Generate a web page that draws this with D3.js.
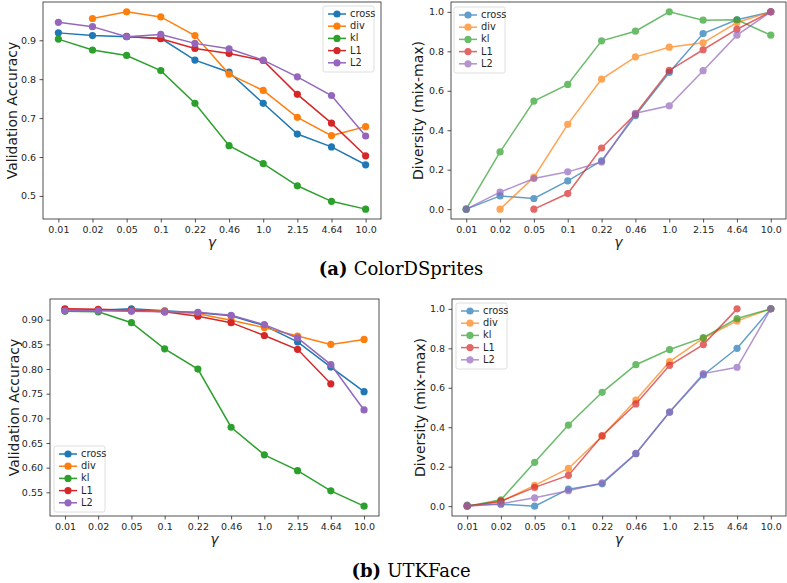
<!DOCTYPE html>
<html>
<head>
<meta charset="utf-8">
<script src="https://cdn.jsdelivr.net/npm/d3@7"></script>
<style>
  body { margin: 0; background: #fff; }
  svg { display: block; }
  .tick text { font-family: "DejaVu Sans", sans-serif; font-size: 9.5px; fill: #262626; }
  .caption { font-family: "DejaVu Serif", serif; font-size: 18px; fill: #000; }
</style>
</head>
<body>
<svg id="chart" width="787" height="583"></svg>
<script>
// gamma values shared by all panels
const gammas = ['0.01', '0.02', '0.05', '0.1', '0.22', '0.46', '1.0', '2.15', '4.64', '10.0'];
const seriesNames = ['cross', 'div', 'kl', 'L1', 'L2'];
const colors = ['#1f77b4', '#ff7f0e', '#2ca02c', '#d62728', '#9467bd'];

// (a) ColorDSprites - validation accuracy
const accColorCross = [0.919, 0.912, 0.909, 0.905, 0.849, 0.818, 0.738, 0.659, 0.626, 0.580];
const accColorDiv = [null, 0.956, 0.973, 0.960, 0.912, 0.813, 0.771, 0.702, 0.655, 0.678];
const accColorKl = [0.903, 0.875, 0.861, 0.822, 0.738, 0.629, 0.583, 0.526, 0.486, 0.466];
const accColorL1 = [null, null, 0.910, 0.904, 0.879, 0.866, 0.848, 0.761, 0.687, 0.603];
const accColorL2 = [0.946, 0.935, 0.909, 0.915, 0.892, 0.878, 0.849, 0.806, 0.758, 0.654];

// (a) ColorDSprites - diversity
const divColorCross = [0, 0.067, 0.054, 0.143, 0.245, 0.474, 0.693, 0.890, 0.960, 1.0];
const divColorDiv = [null, 0, 0.162, 0.430, 0.659, 0.772, 0.821, 0.843, 0.946, 1.0];
const divColorKl = [0, 0.290, 0.548, 0.632, 0.853, 0.902, 1.0, 0.958, 0.960, 0.882];
const divColorL1 = [null, null, 0, 0.079, 0.310, 0.482, 0.703, 0.808, 0.912, 1.0];
const divColorL2 = [0, 0.086, 0.155, 0.189, 0.239, 0.486, 0.524, 0.702, 0.882, 1.0];

// (b) UTKFace - validation accuracy
const accUtkCross = [0.920, 0.919, 0.922, 0.918, 0.914, 0.908, 0.888, 0.855, 0.804, 0.754];
const accUtkDiv = [0.921, 0.920, 0.919, 0.917, 0.912, 0.899, 0.884, 0.867, 0.850, 0.860];
const accUtkKl = [0.917, 0.916, 0.894, 0.841, 0.800, 0.682, 0.626, 0.594, 0.553, 0.522];
const accUtkL1 = [0.922, 0.921, 0.919, 0.916, 0.907, 0.894, 0.868, 0.840, 0.770, null];
const accUtkL2 = [0.918, 0.918, 0.917, 0.916, 0.915, 0.909, 0.890, 0.863, 0.809, 0.717];

// (b) UTKFace - diversity
const divUtkCross = [0.005, 0.010, 0, 0.086, 0.113, 0.266, 0.477, 0.665, 0.800, 1.0];
const divUtkDiv = [0, 0.024, 0.105, 0.191, 0.354, 0.538, 0.733, 0.851, 0.939, 1.0];
const divUtkKl = [0, 0.032, 0.222, 0.411, 0.577, 0.717, 0.794, 0.854, 0.951, 1.0];
const divUtkL1 = [0, 0.025, 0.095, 0.156, 0.357, 0.518, 0.714, 0.819, 1.0, null];
const divUtkL2 = [0, 0.012, 0.042, 0.078, 0.118, 0.267, 0.477, 0.672, 0.704, 1.0];

const accTicksA = [0.5, 0.6, 0.7, 0.8, 0.9];
const divTicks = [0, 0.2, 0.4, 0.6, 0.8, 1.0];
const accTicksB = [0.55, 0.60, 0.65, 0.70, 0.75, 0.80, 0.85, 0.90];

const svg = d3.select('#chart');

function drawPanel(p) {
    const g = svg.append('g');
    const all = p.series.flat().filter(v => v !== null);
    const lo = d3.min(all), hi = d3.max(all);
    const pad = (hi - lo) * 0.05;

    const x = d3.scaleLinear().domain([-0.45, gammas.length - 1 + 0.45]).range([p.left, p.right]);
    const y = d3.scaleLinear().domain([lo - pad, hi + pad]).range([p.bottom, p.top]);

    // axes
    const xAxis = d3.axisBottom(x)
        .tickValues(d3.range(gammas.length))
        .tickFormat(i => gammas[i])
        .tickSizeOuter(0).tickSize(3.5).tickPadding(3.5);
    const yAxis = d3.axisLeft(y)
        .tickValues(p.ticks)
        .tickFormat(d3.format(p.fmt))
        .tickSizeOuter(0).tickSize(3.5).tickPadding(3.5);

    g.append('g').attr('transform', `translate(0,${p.bottom})`).call(xAxis);
    g.append('g').attr('transform', `translate(${p.left},0)`).call(yAxis);
    g.selectAll('.domain').remove();
    g.selectAll('.tick line').attr('stroke', '#262626').attr('stroke-width', 0.8);

    g.append('rect')
        .attr('x', p.left).attr('y', p.top)
        .attr('width', p.right - p.left).attr('height', p.bottom - p.top)
        .attr('fill', 'none').attr('stroke', '#262626').attr('stroke-width', 0.8);

    // series
    const line = d3.line()
        .defined(d => d !== null)
        .x((d, i) => x(i))
        .y(d => y(d));

    p.series.forEach((vals, k) => {
        const s = g.append('g').attr('opacity', p.alpha);
        s.append('path')
            .datum(vals)
            .attr('fill', 'none')
            .attr('stroke', colors[k])
            .attr('stroke-width', 1.5)
            .attr('d', line);
        s.selectAll('circle')
            .data(vals.map((v, i) => ({ v, i })).filter(d => d.v !== null))
            .enter()
            .append('circle')
            .attr('cx', d => x(d.i))
            .attr('cy', d => y(d.v))
            .attr('r', 3.6)
            .attr('fill', colors[k]);
    });

    // axis labels
    g.append('text')
        .attr('transform', `translate(${p.ylabelX},${(p.top + p.bottom) / 2}) rotate(-90)`)
        .attr('text-anchor', 'middle')
        .attr('dominant-baseline', 'middle')
        .style('font-family', '"DejaVu Sans", sans-serif')
        .style('font-size', '14px')
        .style('fill', '#1a1a1a')
        .text(p.ylabel);

    g.append('text')
        .attr('x', (p.left + p.right) / 2)
        .attr('y', p.bottom + 28)
        .attr('text-anchor', 'middle')
        .style('font-family', '"DejaVu Sans", sans-serif')
        .style('font-style', 'italic')
        .style('font-size', '14px')
        .style('fill', '#1a1a1a')
        .text('γ');

    // legend
    const lg = g.append('g').attr('transform', `translate(${p.legend[0]},${p.legend[1]})`);
    lg.append('rect')
        .attr('width', 51).attr('height', 66).attr('rx', 2)
        .attr('fill', 'rgba(255,255,255,0.8)')
        .attr('stroke', '#d6d6d6').attr('stroke-width', 0.8);
    seriesNames.forEach((name, k) => {
        const row = lg.append('g').attr('transform', `translate(0,${8 + k * 12.2})`);
        const h = row.append('g').attr('opacity', p.alpha);
        h.append('line')
            .attr('x1', 5).attr('x2', 23)
            .attr('stroke', colors[k]).attr('stroke-width', 1.5);
        h.append('circle').attr('cx', 14).attr('r', 3.6).attr('fill', colors[k]);
        row.append('text')
            .attr('x', 27).attr('y', 0)
            .attr('dominant-baseline', 'middle')
            .style('font-family', '"DejaVu Sans", sans-serif')
            .style('font-size', '9.8px')
            .style('fill', '#262626')
            .text(name);
    });
}

drawPanel({
    left: 43, right: 381, top: 2, bottom: 219,
    series: [accColorCross, accColorDiv, accColorKl, accColorL1, accColorL2],
    ticks: accTicksA, fmt: '.1f', alpha: 1,
    ylabel: 'Validation Accuracy', ylabelX: 13, legend: [323, 6]
});
drawPanel({
    left: 451, right: 786, top: 2, bottom: 219,
    series: [divColorCross, divColorDiv, divColorKl, divColorL1, divColorL2],
    ticks: divTicks, fmt: '.1f', alpha: 0.7,
    ylabel: 'Diversity (mix-max)', ylabelX: 419, legend: [454, 7]
});
drawPanel({
    left: 50, right: 379, top: 299, bottom: 516,
    series: [accUtkCross, accUtkDiv, accUtkKl, accUtkL1, accUtkL2],
    ticks: accTicksB, fmt: '.2f', alpha: 1,
    ylabel: 'Validation Accuracy', ylabelX: 15, legend: [54, 446]
});
drawPanel({
    left: 452, right: 786, top: 299, bottom: 516,
    series: [divUtkCross, divUtkDiv, divUtkKl, divUtkL1, divUtkL2],
    ticks: divTicks, fmt: '.1f', alpha: 0.7,
    ylabel: 'Diversity (mix-max)', ylabelX: 421, legend: [456, 303]
});

// captions
function caption(cx, cy, tag, label) {
    const t = svg.append('text')
        .attr('class', 'caption')
        .attr('x', cx).attr('y', cy)
        .attr('text-anchor', 'middle')
        .attr('dominant-baseline', 'middle');
    t.append('tspan').style('font-weight', 'bold').text(tag + ' ');
    t.append('tspan').text(label);
}
caption(401, 270, '(a)', 'ColorDSprites');
caption(411, 572, '(b)', 'UTKFace');
</script>
</body>
</html>
